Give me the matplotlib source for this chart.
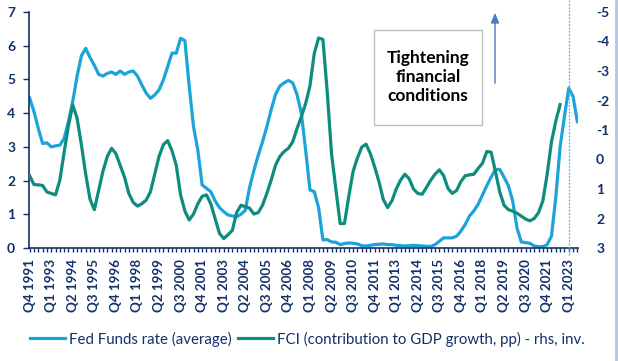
import matplotlib
matplotlib.use("Agg")
import matplotlib.pyplot as plt
import numpy as np

# ---------------- data ----------------
years = list(range(1991, 2024))
quarters = [f"Q{q} {y}" for y in years for q in (1, 2, 3, 4)]
categories = quarters[quarters.index("Q4 1991"):quarters.index("Q3 2023") + 1]

fed_funds = [4.45, 4.05, 3.55, 3.1, 3.12, 3.0, 3.03, 3.05, 3.25, 3.75,
             4.35, 5.1, 5.7, 5.92, 5.65, 5.42, 5.15, 5.1, 5.18, 5.22,
             5.15, 5.25, 5.15, 5.22, 5.25, 5.1, 4.84, 4.6, 4.44, 4.54,
             4.69, 4.98, 5.38, 5.78, 5.78, 6.22, 6.15, 4.8, 3.6, 2.9,
             1.87, 1.77, 1.67, 1.4, 1.2, 1.08, 0.98, 0.95, 0.93, 1.0,
             1.12, 1.8, 2.3, 2.75, 3.15, 3.6, 4.1, 4.55, 4.8, 4.9,
             4.97, 4.9, 4.55, 4.0, 2.9, 1.72, 1.67, 1.2, 0.24, 0.25,
             0.18, 0.17, 0.1, 0.13, 0.15, 0.14, 0.12, 0.07, 0.06, 0.08,
             0.1, 0.11, 0.12, 0.1, 0.1, 0.08, 0.07, 0.06, 0.07, 0.08,
             0.07, 0.06, 0.05, 0.05, 0.1, 0.2, 0.3, 0.3, 0.3, 0.35,
             0.5, 0.7, 0.95, 1.1, 1.3, 1.57, 1.85, 2.1, 2.33, 2.33,
             2.1, 1.85, 1.4, 0.6, 0.18, 0.16, 0.14, 0.06, 0.04, 0.04,
             0.1, 0.35, 1.5, 3.0, 3.9, 4.74, 4.5, 3.75]

fci = [0.55, 0.85, 0.86, 0.88, 1.1, 1.15, 1.2, 0.7, -0.25, -1.15,
       -1.85, -1.4, -0.5, 0.5, 1.35, 1.7, 1.05, 0.4, -0.1, -0.38,
       -0.2, 0.2, 0.6, 1.15, 1.45, 1.58, 1.5, 1.38, 1.1, 0.5,
       -0.1, -0.5, -0.64, -0.3, 0.2, 1.2, 1.75, 2.05, 1.85, 1.5,
       1.25, 1.2, 1.5, 2.0, 2.5, 2.68, 2.55, 2.4, 1.8, 1.55,
       1.6, 1.65, 1.85, 1.8, 1.55, 1.15, 0.7, 0.2, -0.1, -0.27,
       -0.38, -0.6, -1.05, -1.45, -1.9, -2.5, -3.6, -4.12, -4.07, -2.3,
       -0.2, 1.0, 2.17, 2.17, 1.25, 0.4, -0.05, -0.42, -0.52, -0.2,
       0.25, 0.75, 1.35, 1.63, 1.4, 1.0, 0.7, 0.5, 0.65, 1.0,
       1.15, 1.18, 0.95, 0.7, 0.5, 0.35, 0.55, 0.98, 1.15, 1.05,
       0.75, 0.55, 0.52, 0.5, 0.3, 0.13, -0.27, -0.25, 0.4, 1.1,
       1.55, 1.7, 1.75, 1.82, 1.92, 2.02, 2.08, 2.0, 1.8, 1.4,
       0.5, -0.6, -1.3, -1.86]

tick_labels = categories[::5]
left_ticks = [0, 1, 2, 3, 4, 5, 6, 7]
right_ticks = [-5, -4, -3, -2, -1, 0, 1, 2, 3]
marker_label = "Q1 2023"

fed_label = "Fed Funds rate (average)"
fci_label = "FCI (contribution to GDP growth, pp) - rhs, inv."
note = "Tightening\nfinancial\nconditions"

# ---------------- style ----------------
NAVY = "#13306A"
FED_C = "#1CA3D9"
FCI_C = "#0E8C7E"
FONT = ["Lato", "DejaVu Sans"]
plt.rcParams["font.family"] = FONT

W, H = 618, 361
fig = plt.figure(figsize=(W / 100, H / 100), dpi=100)
ax = fig.add_axes([29 / W, 1 - 248 / H, (578 - 29) / W, (248 - 12) / H])
ax2 = ax.twinx()

x_fed = np.arange(len(fed_funds))
x_fci = np.arange(len(fci))
ax.plot(x_fed, fed_funds, color=FED_C, lw=2.3, solid_joinstyle="round", label=fed_label)
ax2.plot(x_fci, fci, color=FCI_C, lw=2.3, solid_joinstyle="round", label=fci_label)

ax.set_xlim(-0.15, len(categories) - 1 + 0.15)
ax.set_ylim(0, 7)
ax2.set_ylim(3, -5)

ax.set_xticks(np.arange(0, len(categories), 5))
ax.set_xticklabels(tick_labels, rotation=90, fontsize=9.6, color=NAVY, fontweight="bold")
ax.set_xticks(np.arange(len(categories)), minor=True)
ax.tick_params(axis="x", which="both", length=3, width=1, color=NAVY, direction="out", pad=5)

ax.set_yticks(left_ticks)
ax.set_yticklabels([str(t) for t in left_ticks], fontsize=10, color=NAVY, fontweight="bold")
ax.tick_params(axis="y", length=4, width=1, color=NAVY, pad=6)

ax2.set_yticks(right_ticks)
ax2.set_yticklabels([str(t) for t in right_ticks], fontsize=10, color=NAVY, fontweight="bold")
ax2.tick_params(axis="y", length=0, pad=13)

for a in (ax, ax2):
    for s in ("top", "right"):
        a.spines[s].set_visible(False)
ax2.spines["left"].set_visible(False)
ax2.spines["bottom"].set_visible(False)
ax.spines["left"].set_color(NAVY)
ax.spines["bottom"].set_color(NAVY)
ax.spines["left"].set_linewidth(1.2)
ax.spines["bottom"].set_linewidth(1.2)

# dotted vertical marker
xm = categories.index(marker_label)
ax.plot([xm, xm], [-0.03, 1.06], transform=ax.get_xaxis_transform(),
        color="#4FB3E0", lw=0.9, ls=(0, (1.5, 1.2)), clip_on=False, zorder=5)

# annotation box and arrow
fig.patches.append(plt.Rectangle((374 / W, 1 - 125 / H), 108 / W, 95 / H,
                                 transform=fig.transFigure, fill=True,
                                 facecolor="white", edgecolor="#BFBFBF", lw=1.0,
                                 zorder=0.5))
fig.text(428 / W, 1 - 77 / H, note, ha="center", va="center", fontsize=12.5,
         fontweight="bold", color="black", linespacing=1.2,
         family=["Lato", "DejaVu Sans"], zorder=3)
ax.annotate("", xy=(495 / W, 1 - 10 / H), xytext=(495 / W, 1 - 86 / H),
            xycoords="figure fraction", textcoords="figure fraction",
            arrowprops=dict(arrowstyle="-|>,head_length=0.6,head_width=0.25",
                            color="#4A7CC0", lw=1.0))

# right border of chart area
fig.add_artist(plt.Line2D([616 / W, 616 / W], [0, 1], transform=fig.transFigure,
                          color="#B4C7E7", lw=2))

# legend
h1, l1 = ax.get_legend_handles_labels()
h2, l2 = ax2.get_legend_handles_labels()
leg = fig.legend(h1 + h2, l1 + l2, loc="center left", bbox_to_anchor=(30 / W, 1 - 339 / H),
                 ncol=2, frameon=False, fontsize=10.8, handlelength=2.35,
                 handletextpad=0.25, columnspacing=0.4, borderaxespad=0, borderpad=0)
for t in leg.get_texts():
    t.set_color(NAVY)

fig.savefig("out.png", dpi=100)
